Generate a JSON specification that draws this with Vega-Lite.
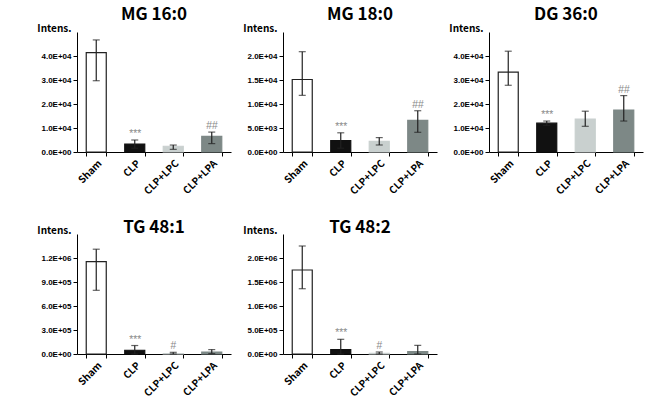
{
  "$schema": "https://vega.github.io/schema/vega-lite/v6.json",
  "background": "white",
  "padding": {"left": 36, "top": 6, "right": 5, "bottom": 5},
  "datasets": {
    "d": [
      {"lipid": "MG 16:0", "group": "Sham", "mean": 41400, "lo": 29700, "hi": 46700, "ann": ""},
      {"lipid": "MG 16:0", "group": "CLP", "mean": 3300, "lo": 1600, "hi": 5000, "ann": "***"},
      {"lipid": "MG 16:0", "group": "CLP+LPC", "mean": 2400, "lo": 1100, "hi": 2900, "ann": ""},
      {"lipid": "MG 16:0", "group": "CLP+LPA", "mean": 6500, "lo": 3500, "hi": 8300, "ann": "##"},
      {"lipid": "MG 18:0", "group": "Sham", "mean": 15100, "lo": 11800, "hi": 20900, "ann": ""},
      {"lipid": "MG 18:0", "group": "CLP", "mean": 2400, "lo": 800, "hi": 4000, "ann": "***"},
      {"lipid": "MG 18:0", "group": "CLP+LPC", "mean": 2200, "lo": 1460, "hi": 3000, "ann": ""},
      {"lipid": "MG 18:0", "group": "CLP+LPA", "mean": 6600, "lo": 4100, "hi": 8600, "ann": "##"},
      {"lipid": "DG 36:0", "group": "Sham", "mean": 33300, "lo": 27800, "hi": 42000, "ann": ""},
      {"lipid": "DG 36:0", "group": "CLP", "mean": 12000, "lo": 11100, "hi": 12900, "ann": "***"},
      {"lipid": "DG 36:0", "group": "CLP+LPC", "mean": 13750, "lo": 10700, "hi": 17000, "ann": ""},
      {"lipid": "DG 36:0", "group": "CLP+LPA", "mean": 17500, "lo": 12900, "hi": 23500, "ann": "##"},
      {"lipid": "TG 48:1", "group": "Sham", "mean": 1154000, "lo": 796000, "hi": 1310000, "ann": ""},
      {"lipid": "TG 48:1", "group": "CLP", "mean": 47000, "lo": 0, "hi": 106000, "ann": "***"},
      {"lipid": "TG 48:1", "group": "CLP+LPC", "mean": 6000, "lo": 0, "hi": 21000, "ann": "#"},
      {"lipid": "TG 48:1", "group": "CLP+LPA", "mean": 25000, "lo": 5000, "hi": 55000, "ann": ""},
      {"lipid": "TG 48:2", "group": "Sham", "mean": 1750000, "lo": 1360000, "hi": 2250000, "ann": ""},
      {"lipid": "TG 48:2", "group": "CLP", "mean": 90000, "lo": 0, "hi": 306000, "ann": "***"},
      {"lipid": "TG 48:2", "group": "CLP+LPC", "mean": 14000, "lo": 0, "hi": 42000, "ann": "#"},
      {"lipid": "TG 48:2", "group": "CLP+LPA", "mean": 49000, "lo": 0, "hi": 180000, "ann": ""}
    ]
  },
  "vconcat": [
    {
      "hconcat": [
        {
          "title": {"text": "MG 16:0", "offset": -1},
          "width": 154, "height": 120,
          "data": {"name": "d"},
          "transform": [{"filter": "datum.lipid === 'MG 16:0'"}],
          "encoding": {"x": {"field": "group", "type": "nominal", "sort": ["Sham", "CLP", "CLP+LPC", "CLP+LPA"], "scale": {"paddingInner": 0.48, "paddingOuter": 0.24}}},
          "layer": [
            {"mark": {"type": "bar", "strokeWidth": 1.2}, "encoding": {"y": {"field": "mean", "type": "quantitative", "scale": {"domain": [0, 50000], "nice": false}, "axis": {"values": [0, 10000, 20000, 30000, 40000], "title": "Intens."}}, "fill": {"field": "group", "type": "nominal", "scale": {"domain": ["Sham", "CLP", "CLP+LPC", "CLP+LPA"], "range": ["#ffffff", "#111111", "#c9d0cf", "#7d8886"]}, "legend": null}, "stroke": {"field": "group", "type": "nominal", "scale": {"domain": ["Sham", "CLP", "CLP+LPC", "CLP+LPA"], "range": ["#222222", "#111111", "#c9d0cf", "#7d8886"]}, "legend": null}}},
            {"mark": {"type": "rule", "color": "#222222", "strokeWidth": 1.2}, "encoding": {"y": {"field": "lo", "type": "quantitative", "scale": {"domain": [0, 50000], "nice": false}, "axis": {"values": [0, 10000, 20000, 30000, 40000], "title": "Intens."}}, "y2": {"field": "hi"}}},
            {"mark": {"type": "tick", "color": "#222222", "size": 7, "thickness": 1.2}, "encoding": {"y": {"field": "lo", "type": "quantitative", "scale": {"domain": [0, 50000], "nice": false}, "axis": {"values": [0, 10000, 20000, 30000, 40000], "title": "Intens."}}}},
            {"mark": {"type": "tick", "color": "#222222", "size": 7, "thickness": 1.2}, "encoding": {"y": {"field": "hi", "type": "quantitative", "scale": {"domain": [0, 50000], "nice": false}, "axis": {"values": [0, 10000, 20000, 30000, 40000], "title": "Intens."}}}},
            {"mark": {"type": "text", "dy": -3, "baseline": "alphabetic", "color": "#8a8a8a", "fontSize": 10.5, "fontStyle": "italic", "font": "Liberation Sans"}, "encoding": {"y": {"field": "hi", "type": "quantitative", "scale": {"domain": [0, 50000], "nice": false}, "axis": {"values": [0, 10000, 20000, 30000, 40000], "title": "Intens."}}, "text": {"field": "ann"}}}
          ]
        },
        {
          "title": {"text": "MG 18:0", "offset": -1},
          "width": 154, "height": 120,
          "data": {"name": "d"},
          "transform": [{"filter": "datum.lipid === 'MG 18:0'"}],
          "encoding": {"x": {"field": "group", "type": "nominal", "sort": ["Sham", "CLP", "CLP+LPC", "CLP+LPA"], "scale": {"paddingInner": 0.48, "paddingOuter": 0.24}}},
          "layer": [
            {"mark": {"type": "bar", "strokeWidth": 1.2}, "encoding": {"y": {"field": "mean", "type": "quantitative", "scale": {"domain": [0, 25000], "nice": false}, "axis": {"values": [0, 5000, 10000, 15000, 20000], "title": "Intens."}}, "fill": {"field": "group", "type": "nominal", "scale": {"domain": ["Sham", "CLP", "CLP+LPC", "CLP+LPA"], "range": ["#ffffff", "#111111", "#c9d0cf", "#7d8886"]}, "legend": null}, "stroke": {"field": "group", "type": "nominal", "scale": {"domain": ["Sham", "CLP", "CLP+LPC", "CLP+LPA"], "range": ["#222222", "#111111", "#c9d0cf", "#7d8886"]}, "legend": null}}},
            {"mark": {"type": "rule", "color": "#222222", "strokeWidth": 1.2}, "encoding": {"y": {"field": "lo", "type": "quantitative", "scale": {"domain": [0, 25000], "nice": false}, "axis": {"values": [0, 5000, 10000, 15000, 20000], "title": "Intens."}}, "y2": {"field": "hi"}}},
            {"mark": {"type": "tick", "color": "#222222", "size": 7, "thickness": 1.2}, "encoding": {"y": {"field": "lo", "type": "quantitative", "scale": {"domain": [0, 25000], "nice": false}, "axis": {"values": [0, 5000, 10000, 15000, 20000], "title": "Intens."}}}},
            {"mark": {"type": "tick", "color": "#222222", "size": 7, "thickness": 1.2}, "encoding": {"y": {"field": "hi", "type": "quantitative", "scale": {"domain": [0, 25000], "nice": false}, "axis": {"values": [0, 5000, 10000, 15000, 20000], "title": "Intens."}}}},
            {"mark": {"type": "text", "dy": -3, "baseline": "alphabetic", "color": "#8a8a8a", "fontSize": 10.5, "fontStyle": "italic", "font": "Liberation Sans"}, "encoding": {"y": {"field": "hi", "type": "quantitative", "scale": {"domain": [0, 25000], "nice": false}, "axis": {"values": [0, 5000, 10000, 15000, 20000], "title": "Intens."}}, "text": {"field": "ann"}}}
          ]
        },
        {
          "title": {"text": "DG 36:0", "offset": -1},
          "width": 154, "height": 120,
          "data": {"name": "d"},
          "transform": [{"filter": "datum.lipid === 'DG 36:0'"}],
          "encoding": {"x": {"field": "group", "type": "nominal", "sort": ["Sham", "CLP", "CLP+LPC", "CLP+LPA"], "scale": {"paddingInner": 0.48, "paddingOuter": 0.24}}},
          "layer": [
            {"mark": {"type": "bar", "strokeWidth": 1.2}, "encoding": {"y": {"field": "mean", "type": "quantitative", "scale": {"domain": [0, 50000], "nice": false}, "axis": {"values": [0, 10000, 20000, 30000, 40000], "title": "Intens."}}, "fill": {"field": "group", "type": "nominal", "scale": {"domain": ["Sham", "CLP", "CLP+LPC", "CLP+LPA"], "range": ["#ffffff", "#111111", "#c9d0cf", "#7d8886"]}, "legend": null}, "stroke": {"field": "group", "type": "nominal", "scale": {"domain": ["Sham", "CLP", "CLP+LPC", "CLP+LPA"], "range": ["#222222", "#111111", "#c9d0cf", "#7d8886"]}, "legend": null}}},
            {"mark": {"type": "rule", "color": "#222222", "strokeWidth": 1.2}, "encoding": {"y": {"field": "lo", "type": "quantitative", "scale": {"domain": [0, 50000], "nice": false}, "axis": {"values": [0, 10000, 20000, 30000, 40000], "title": "Intens."}}, "y2": {"field": "hi"}}},
            {"mark": {"type": "tick", "color": "#222222", "size": 7, "thickness": 1.2}, "encoding": {"y": {"field": "lo", "type": "quantitative", "scale": {"domain": [0, 50000], "nice": false}, "axis": {"values": [0, 10000, 20000, 30000, 40000], "title": "Intens."}}}},
            {"mark": {"type": "tick", "color": "#222222", "size": 7, "thickness": 1.2}, "encoding": {"y": {"field": "hi", "type": "quantitative", "scale": {"domain": [0, 50000], "nice": false}, "axis": {"values": [0, 10000, 20000, 30000, 40000], "title": "Intens."}}}},
            {"mark": {"type": "text", "dy": -3, "baseline": "alphabetic", "color": "#8a8a8a", "fontSize": 10.5, "fontStyle": "italic", "font": "Liberation Sans"}, "encoding": {"y": {"field": "hi", "type": "quantitative", "scale": {"domain": [0, 50000], "nice": false}, "axis": {"values": [0, 10000, 20000, 30000, 40000], "title": "Intens."}}, "text": {"field": "ann"}}}
          ]
        }
      ],
      "spacing": 11
    },
    {
      "hconcat": [
        {
          "title": {"text": "TG 48:1", "offset": -12},
          "width": 154, "height": 120,
          "data": {"name": "d"},
          "transform": [{"filter": "datum.lipid === 'TG 48:1'"}],
          "encoding": {"x": {"field": "group", "type": "nominal", "sort": ["Sham", "CLP", "CLP+LPC", "CLP+LPA"], "scale": {"paddingInner": 0.48, "paddingOuter": 0.24}}},
          "layer": [
            {"mark": {"type": "bar", "strokeWidth": 1.2}, "encoding": {"y": {"field": "mean", "type": "quantitative", "scale": {"domain": [0, 1500000], "nice": false}, "axis": {"values": [0, 300000, 600000, 900000, 1200000], "title": "Intens."}}, "fill": {"field": "group", "type": "nominal", "scale": {"domain": ["Sham", "CLP", "CLP+LPC", "CLP+LPA"], "range": ["#ffffff", "#111111", "#c9d0cf", "#7d8886"]}, "legend": null}, "stroke": {"field": "group", "type": "nominal", "scale": {"domain": ["Sham", "CLP", "CLP+LPC", "CLP+LPA"], "range": ["#222222", "#111111", "#c9d0cf", "#7d8886"]}, "legend": null}}},
            {"mark": {"type": "rule", "color": "#222222", "strokeWidth": 1.2}, "encoding": {"y": {"field": "lo", "type": "quantitative", "scale": {"domain": [0, 1500000], "nice": false}, "axis": {"values": [0, 300000, 600000, 900000, 1200000], "title": "Intens."}}, "y2": {"field": "hi"}}},
            {"mark": {"type": "tick", "color": "#222222", "size": 7, "thickness": 1.2}, "encoding": {"y": {"field": "lo", "type": "quantitative", "scale": {"domain": [0, 1500000], "nice": false}, "axis": {"values": [0, 300000, 600000, 900000, 1200000], "title": "Intens."}}}},
            {"mark": {"type": "tick", "color": "#222222", "size": 7, "thickness": 1.2}, "encoding": {"y": {"field": "hi", "type": "quantitative", "scale": {"domain": [0, 1500000], "nice": false}, "axis": {"values": [0, 300000, 600000, 900000, 1200000], "title": "Intens."}}}},
            {"mark": {"type": "text", "dy": -3, "baseline": "alphabetic", "color": "#8a8a8a", "fontSize": 10.5, "fontStyle": "italic", "font": "Liberation Sans"}, "encoding": {"y": {"field": "hi", "type": "quantitative", "scale": {"domain": [0, 1500000], "nice": false}, "axis": {"values": [0, 300000, 600000, 900000, 1200000], "title": "Intens."}}, "text": {"field": "ann"}}}
          ]
        },
        {
          "title": {"text": "TG 48:2", "offset": -12},
          "width": 154, "height": 120,
          "data": {"name": "d"},
          "transform": [{"filter": "datum.lipid === 'TG 48:2'"}],
          "encoding": {"x": {"field": "group", "type": "nominal", "sort": ["Sham", "CLP", "CLP+LPC", "CLP+LPA"], "scale": {"paddingInner": 0.48, "paddingOuter": 0.24}}},
          "layer": [
            {"mark": {"type": "bar", "strokeWidth": 1.2}, "encoding": {"y": {"field": "mean", "type": "quantitative", "scale": {"domain": [0, 2500000], "nice": false}, "axis": {"values": [0, 500000, 1000000, 1500000, 2000000], "title": "Intens."}}, "fill": {"field": "group", "type": "nominal", "scale": {"domain": ["Sham", "CLP", "CLP+LPC", "CLP+LPA"], "range": ["#ffffff", "#111111", "#c9d0cf", "#7d8886"]}, "legend": null}, "stroke": {"field": "group", "type": "nominal", "scale": {"domain": ["Sham", "CLP", "CLP+LPC", "CLP+LPA"], "range": ["#222222", "#111111", "#c9d0cf", "#7d8886"]}, "legend": null}}},
            {"mark": {"type": "rule", "color": "#222222", "strokeWidth": 1.2}, "encoding": {"y": {"field": "lo", "type": "quantitative", "scale": {"domain": [0, 2500000], "nice": false}, "axis": {"values": [0, 500000, 1000000, 1500000, 2000000], "title": "Intens."}}, "y2": {"field": "hi"}}},
            {"mark": {"type": "tick", "color": "#222222", "size": 7, "thickness": 1.2}, "encoding": {"y": {"field": "lo", "type": "quantitative", "scale": {"domain": [0, 2500000], "nice": false}, "axis": {"values": [0, 500000, 1000000, 1500000, 2000000], "title": "Intens."}}}},
            {"mark": {"type": "tick", "color": "#222222", "size": 7, "thickness": 1.2}, "encoding": {"y": {"field": "hi", "type": "quantitative", "scale": {"domain": [0, 2500000], "nice": false}, "axis": {"values": [0, 500000, 1000000, 1500000, 2000000], "title": "Intens."}}}},
            {"mark": {"type": "text", "dy": -3, "baseline": "alphabetic", "color": "#8a8a8a", "fontSize": 10.5, "fontStyle": "italic", "font": "Liberation Sans"}, "encoding": {"y": {"field": "hi", "type": "quantitative", "scale": {"domain": [0, 2500000], "nice": false}, "axis": {"values": [0, 500000, 1000000, 1500000, 2000000], "title": "Intens."}}, "text": {"field": "ann"}}}
          ]
        }
      ],
      "spacing": 11
    }
  ],
  "spacing": 22,
  "config": {
    "view": {"stroke": null},
    "title": {"font": "Noto Sans CJK KR", "fontSize": 17, "fontWeight": "bold", "color": "#000000", "anchor": "middle", "frame": "group"},
    "axis": {"domainColor": "#000000", "tickColor": "#000000", "domainWidth": 1, "tickWidth": 1, "tickSize": 4, "grid": false, "labelColor": "#000000"},
    "axisY": {"labelFont": "Liberation Sans", "labelFontWeight": "bold", "labelFontSize": 8, "labelPadding": 2, "labelOverlap": false, "labelExpr": "replace(format(datum.value, '.1e'), 'e+', 'E+0')", "titleAngle": 0, "titleAlign": "right", "titleBaseline": "alphabetic", "titleX": -6, "titleY": -1, "titleFont": "Noto Sans CJK KR", "titleFontSize": 10, "titleFontWeight": "bold", "titleColor": "#000000"},
    "axisX": {"title": null, "labelAngle": -45, "labelFont": "Noto Sans CJK KR", "labelFontWeight": "bold", "labelFontSize": 10, "tickBand": "extent", "labelPadding": 2}
  }
}
